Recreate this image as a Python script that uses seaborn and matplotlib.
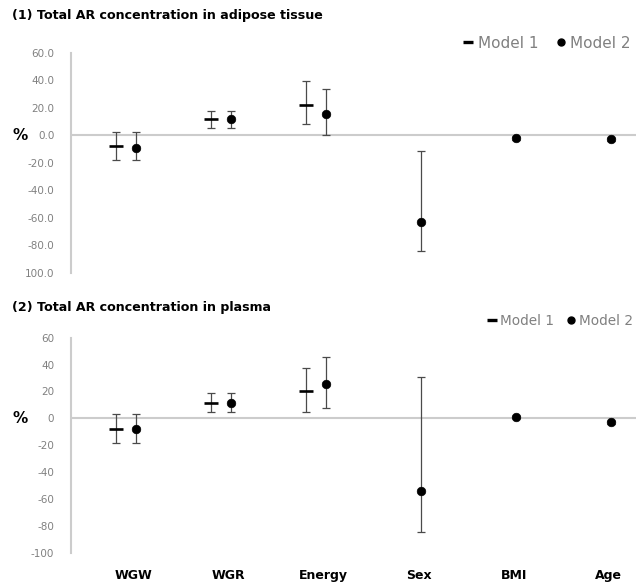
import numpy as np
import pandas as pd
import matplotlib
matplotlib.use("Agg")
import matplotlib.pyplot as plt
import matplotlib.transforms as mtransforms
from matplotlib.lines import Line2D
import seaborn as sns

categories = ["WGW", "WGR", "Energy", "Sex", "BMI", "Age"]
models = ["Model 1", "Model 2"]
nan = np.nan

# (1) adipose tissue: estimate and 95% CI (%)
adipose_m1_est = [-8.0, 11.7, 22.4, nan, nan, nan]
adipose_m1_low = [-17.6, 5.8, 8.0, nan, nan, nan]
adipose_m1_high = [2.2, 17.6, 39.7, nan, nan, nan]
adipose_m2_est = [-8.8, 12.2, 15.4, -62.7, -2.0, -2.9]
adipose_m2_low = [-17.6, 5.4, 0.0, -83.9, -3.0, -3.9]
adipose_m2_high = [2.2, 18.0, 33.9, -11.2, -1.0, -1.9]

# (2) plasma: estimate and 95% CI (%)
plasma_m1_est = [-8.2, 11.2, 20.1, nan, nan, nan]
plasma_m1_low = [-18.2, 4.9, 4.9, nan, nan, nan]
plasma_m1_high = [3.0, 18.6, 37.2, nan, nan, nan]
plasma_m2_est = [-8.0, 11.6, 25.3, -54.1, 1.0, -3.0]
plasma_m2_low = [-18.2, 4.9, 7.4, -84.4, 0.0, -4.0]
plasma_m2_high = [3.0, 18.6, 45.9, 31.0, 2.0, -2.0]

adipose_ticklabels = ["60.0", "40.0", "20.0", "0.0", "-20.0", "-40.0",
                      "-60.0", "-80.0", "100.0"]
plasma_ticklabels = ["60", "40", "20", "0", "-20", "-40", "-60", "-80", "-100"]
yticks = [60, 40, 20, 0, -20, -40, -60, -80, -100]

titles = ["(1) Total AR concentration in adipose tissue",
          "(2) Total AR concentration in plasma"]


def long_table(m1_est, m1_low, m1_high, m2_est, m2_low, m2_high):
    rows = []
    for model, est, low, high in (("Model 1", m1_est, m1_low, m1_high),
                                  ("Model 2", m2_est, m2_low, m2_high)):
        for i, cat in enumerate(categories):
            rows.append(dict(category=cat, idx=i, model=model,
                             est=est[i], low=low[i], high=high[i]))
    df = pd.DataFrame(rows).dropna()
    offset = {"Model 1": -0.11, "Model 2": 0.11}
    df["xpos"] = df["idx"] + df["model"].map(offset)
    return df


adipose = long_table(adipose_m1_est, adipose_m1_low, adipose_m1_high,
                     adipose_m2_est, adipose_m2_low, adipose_m2_high)
plasma = long_table(plasma_m1_est, plasma_m1_low, plasma_m1_high,
                    plasma_m2_est, plasma_m2_low, plasma_m2_high)

sns.set_theme(style="white")
plt.rcParams["font.family"] = ["DejaVu Sans"]

W, H = 636, 586
fig = plt.figure(figsize=(W / 100, H / 100), dpi=100)

LINE_GREY = "#cccccc"
TICK_GREY = "#808080"
ERR_GREY = "#4a4a4a"


def panel(rect, df, ticklabels, show_x):
    ax = fig.add_axes(rect)
    ax.set_facecolor("white")
    ax.errorbar(df["xpos"], df["est"],
                yerr=[df["est"] - df["low"], df["high"] - df["est"]],
                fmt="none", ecolor=ERR_GREY, elinewidth=0.9,
                capsize=3.0, capthick=0.9, zorder=2)
    m1 = df[df["model"] == "Model 1"]
    m2 = df[df["model"] == "Model 2"]
    sns.scatterplot(data=m1, x="xpos", y="est", marker="_", s=110,
                    color="black", linewidth=1.9, ax=ax, zorder=3,
                    legend=False)
    sns.scatterplot(data=m2, x="xpos", y="est", marker="o", s=38,
                    color="black", edgecolor="black", linewidth=0.5,
                    ax=ax, zorder=3, legend=False)
    ax.axhline(0, color=LINE_GREY, lw=1.5, zorder=1)
    ax.set_ylim(-100, 60)
    ax.set_xlim(-0.579, 5.368)
    ax.set_yticks(yticks)
    ax.set_yticklabels(ticklabels, color=TICK_GREY, fontsize=7.5)
    ax.tick_params(axis="y", length=0, pad=12)
    # category labels sit slightly right of each group's midpoint
    ax.set_xticks([i + 0.08 for i in range(len(categories))])
    if show_x:
        ax.set_xticklabels(categories, fontsize=9, fontweight="bold",
                           color="black")
        ax.tick_params(axis="x", length=0, pad=12)
    else:
        ax.set_xticklabels([])
        ax.tick_params(axis="x", length=0)
    for side in ("top", "right", "bottom"):
        ax.spines[side].set_visible(False)
    ax.spines["left"].set_color(LINE_GREY)
    ax.spines["left"].set_linewidth(1.5)
    ax.set_xlabel("")
    ax.set_ylabel("")
    trans = mtransforms.blended_transform_factory(fig.transFigure, ax.transData)
    ax.text(20 / W, 0, "%", transform=trans, fontsize=11, fontweight="bold",
            ha="center", va="center", color="black")
    return ax


ax1 = panel([71 / W, 1 - 273 / H, 565 / W, 220 / H], adipose,
            adipose_ticklabels, False)
ax2 = panel([71 / W, 1 - 552.6 / H, 565 / W, 214.9 / H], plasma,
            plasma_ticklabels, True)

fig.text(12 / W, 1 - 16 / H, titles[0], fontsize=9.1, fontweight="bold",
         ha="left", va="center", color="black")
fig.text(12 / W, 1 - 307 / H, titles[1], fontsize=9.1, fontweight="bold",
         ha="left", va="center", color="black")

handles = [Line2D([], [], marker="_", ls="none", color="black",
                  markersize=7, markeredgewidth=2.4),
           Line2D([], [], marker="o", ls="none", color="black",
                  markersize=5)]
for x0, y0, fs, gap in ((463, 43, 11.0, 1.15), (487, 321, 9.8, 0.9)):
    fig.legend(handles, models, loc="center left",
               bbox_to_anchor=(x0 / W, 1 - y0 / H), ncol=2, frameon=False,
               fontsize=fs, labelcolor=TICK_GREY, handlelength=0.7,
               handletextpad=0.25, columnspacing=gap, borderaxespad=0,
               borderpad=0)

fig.savefig("out.png", dpi=100)
